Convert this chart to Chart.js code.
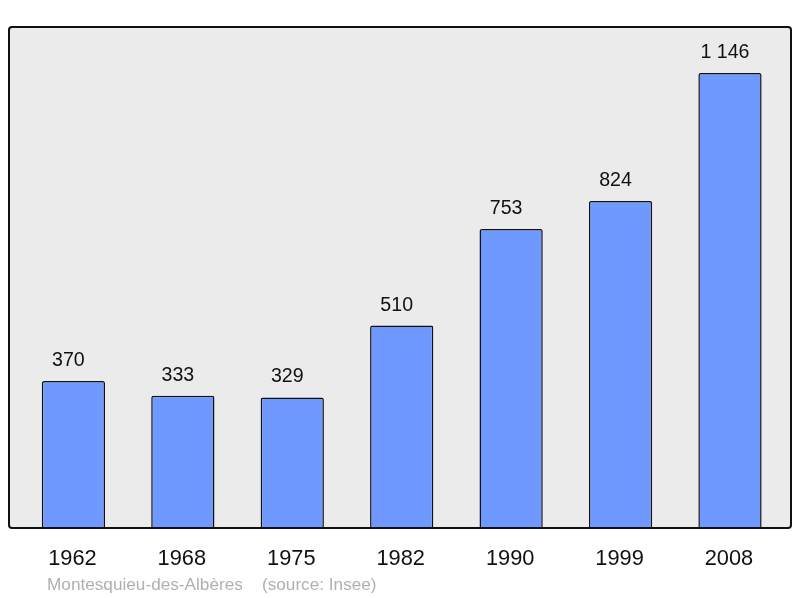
<!DOCTYPE html>
<html>
<head>
<meta charset="utf-8">
<script src="https://cdn.jsdelivr.net/npm/chart.js@4"></script>
<style>
  html, body { margin: 0; padding: 0; background: #fff; }
  #wrap { width: 800px; height: 598px; position: relative; }
</style>
</head>
<body>
<div id="wrap"><canvas id="popChart" width="800" height="598"></canvas></div>
<script>
const years = ["1962", "1968", "1975", "1982", "1990", "1999", "2008"];
const population = [370, 333, 329, 510, 753, 824, 1146];
const footer = "Montesquieu-des-Albères    (source: Insee)";

function fmt(n) {
  return String(n).replace(/\B(?=(\d{3})+(?!\d))/g, " ");
}

// frame behind the bars, value labels and year labels
const decor = {
  id: "decor",
  beforeDatasetsDraw(chart) {
    const { ctx, chartArea: a } = chart;
    const l = a.left - 9.7, r = a.right + 6.3, t = a.top, b = a.bottom;
    ctx.save();
    ctx.beginPath();
    ctx.roundRect(l, t, r - l, b - t, 3);
    ctx.fillStyle = "#ebebeb";
    ctx.fill();
    ctx.restore();
  },
  afterDatasetsDraw(chart) {
    const { ctx, chartArea: a } = chart;
    const l = a.left - 9.7, r = a.right + 6.3, t = a.top, b = a.bottom;
    ctx.save();
    ctx.beginPath();
    ctx.roundRect(l, t, r - l, b - t, 3);
    ctx.lineWidth = 2;
    ctx.strokeStyle = "#111";
    ctx.stroke();

    const x = chart.scales.x, y = chart.scales.y;
    ctx.fillStyle = "#111";
    ctx.textAlign = "center";
    ctx.textBaseline = "alphabetic";
    ctx.font = "19.6px 'Liberation Sans', Arial, sans-serif";
    population.forEach((v, i) => {
      ctx.fillText(fmt(v), x.getPixelForValue(i) - 5, y.getPixelForValue(v) - 15);
    });
    ctx.font = "21.8px 'Liberation Sans', Arial, sans-serif";
    years.forEach((yr, i) => {
      ctx.fillText(yr, x.getPixelForValue(i) - 1, 564.5);
    });
    ctx.textAlign = "left";
    ctx.fillStyle = "#b0b0b0";
    ctx.font = "17.2px 'Liberation Sans', Arial, sans-serif";
    ctx.fillText(footer, 47, 590);
    ctx.restore();
  }
};

const chart = new Chart(document.getElementById("popChart"), {
  type: "bar",
  data: {
    labels: years,
    datasets: [{
      data: population,
      backgroundColor: "#7099ff",
      borderColor: "#111",
      borderWidth: 1.5,
      borderRadius: 2,
      borderSkipped: "bottom",
      categoryPercentage: 1,
      barPercentage: 0.578
    }]
  },
  options: {
    responsive: false,
    animation: false,
    layout: { padding: { left: 18.7, right: 15.3, top: 27, bottom: 70 } },
    scales: {
      x: { display: false },
      y: { display: false, min: 0, max: 1262 }
    },
    plugins: {
      legend: { display: false },
      tooltip: { enabled: false }
    }
  },
  plugins: [decor]
});
</script>
</body>
</html>
